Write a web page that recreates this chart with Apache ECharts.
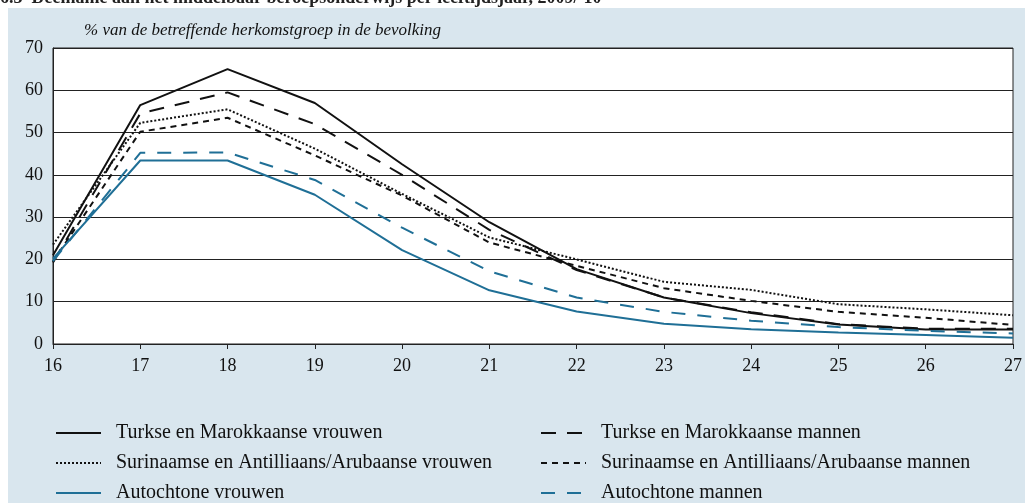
<!DOCTYPE html>
<html>
<head>
    <meta charset="utf-8" />
    <title>Deelname mbo per leeftijdsjaar</title>
    <style type="text/css">
        body, html {width: 100%;height: 100%;margin:0;background:#fff;}
        #chart{width:1025px;height:503px;}
    </style>
    <script src="https://cdn.jsdelivr.net/npm/echarts@6/dist/echarts.min.js"></script>
</head>
<body>
<div id="chart"></div>
<script type="text/javascript">
    // leeftijd (jaren)
    var ages = [16, 17, 18, 19, 20, 21, 22, 23, 24, 25, 26, 27];
    var yTicks = [0, 10, 20, 30, 40, 50, 60, 70];

    // % van de betreffende herkomstgroep
    var turkVrouwen = [21.0, 56.5, 65.0, 57.0, 42.5, 28.8, 17.7, 11.0, 7.3, 4.6, 3.4, 3.4];
    var turkMannen  = [19.3, 54.5, 59.5, 52.0, 40.0, 27.0, 17.5, 11.0, 7.5, 4.7, 3.6, 3.6];
    var surVrouwen  = [23.5, 52.3, 55.5, 46.2, 35.5, 25.2, 20.0, 14.7, 12.8, 9.4, 8.2, 6.8];
    var surMannen   = [19.5, 50.2, 53.5, 44.6, 35.1, 24.0, 18.5, 13.2, 10.2, 7.6, 6.2, 4.5];
    var autVrouwen  = [20.2, 43.4, 43.4, 35.3, 22.2, 12.7, 7.7, 4.8, 3.5, 2.7, 2.1, 1.5];
    var autMannen   = [19.6, 45.2, 45.3, 38.8, 27.5, 17.2, 11.0, 7.6, 5.5, 4.0, 3.1, 2.5];

    var names = [
        'Turkse en Marokkaanse vrouwen',
        'Turkse en Marokkaanse mannen',
        'Surinaamse en Antilliaans/Arubaanse vrouwen',
        'Surinaamse en Antilliaans/Arubaanse mannen',
        'Autochtone vrouwen',
        'Autochtone mannen'
    ];

    var FONT = '"Liberation Serif", serif';
    var BLACK = '#111';
    var BLUE = '#1f6f96';

    function pairs(vals) {
        return ages.map(function (a, i) { return [a, vals[i]]; });
    }

    function line(name, vals, color, dash) {
        return {
            name: name,
            type: 'line',
            symbol: 'none',
            data: pairs(vals),
            lineStyle: {color: color, width: 2, type: dash},
            itemStyle: {color: color},
            emphasis: {disabled: true},
            z: 3
        };
    }

    // one legend per entry: two columns, three rows
    function legendItem(name, col, row) {
        return {
            data: [name],
            left: col === 0 ? 55 : 540,
            top: 423 + row * 30,
            padding: 0,
            itemWidth: 45,
            itemHeight: 14,
            itemStyle: {opacity: 0},
            textStyle: {fontFamily: FONT, fontSize: 20, color: '#111', padding: [0, 0, 0, 10]},
            selectedMode: false
        };
    }

    var chart = echarts.init(document.getElementById('chart'));
    var option = {
        animation: false,
        graphic: [
            {type: 'rect', left: 8, top: 8, z: -10, silent: true,
             shape: {width: 1017, height: 495}, style: {fill: '#d9e6ee'}},
            {type: 'text', left: 0, top: -11, z: 10, silent: true,
             style: {text: "6.3  Deelname aan het middelbaar beroepsonderwijs per leeftijdsjaar, 2009/'10",
                     font: 'bold 18px ' + FONT, fill: '#222'}},
            {type: 'text', left: 84, top: 22, silent: true,
             style: {text: '% van de betreffende herkomstgroep in de bevolking',
                     font: 'italic 17px ' + FONT, fill: '#111'}}
        ],
        grid: {left: 53, right: 11, top: 48, bottom: 159, show: true,
               backgroundColor: '#fff', borderColor: '#222', borderWidth: 1},
        xAxis: {
            type: 'value', min: 16, max: 27, interval: 1,
            axisLine: {show: true, onZero: false, lineStyle: {color: '#222', width: 1}},
            axisTick: {show: true, inside: false, length: 5, lineStyle: {color: '#222'}},
            axisLabel: {fontFamily: FONT, fontSize: 18, color: '#111', margin: 13},
            splitLine: {show: false}
        },
        yAxis: {
            type: 'value', min: 0, max: 70, interval: 10,
            axisLine: {show: true, lineStyle: {color: '#222', width: 1}},
            axisTick: {show: false},
            axisLabel: {fontFamily: FONT, fontSize: 18, color: '#111', margin: 10,
                        formatter: function (v) { return yTicks.indexOf(v) >= 0 ? String(v) : ''; }},
            splitLine: {show: true, lineStyle: {color: '#222', width: 1}}
        },
        legend: [
            legendItem(names[0], 0, 0),
            legendItem(names[2], 0, 1),
            legendItem(names[4], 0, 2),
            legendItem(names[1], 1, 0),
            legendItem(names[3], 1, 1),
            legendItem(names[5], 1, 2)
        ],
        series: [
            line(names[0], turkVrouwen, BLACK, 'solid'),
            line(names[1], turkMannen, BLACK, [15, 11]),
            line(names[2], surVrouwen, BLACK, [2, 2]),
            line(names[3], surMannen, BLACK, [6, 5]),
            line(names[4], autVrouwen, BLUE, 'solid'),
            line(names[5], autMannen, BLUE, [14, 12])
        ]
    };
    chart.setOption(option);
</script>
</body>
</html>
